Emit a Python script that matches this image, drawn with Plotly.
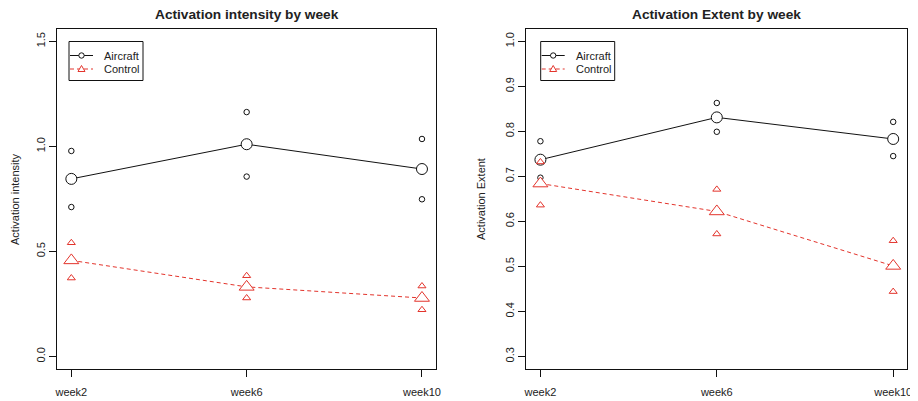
import plotly.graph_objects as go

weeks = ["week2", "week6", "week10"]

# Activation intensity
int_air_mean = [0.845, 1.010, 0.892]
int_air_hi = [0.978, 1.163, 1.035]
int_air_lo = [0.711, 0.856, 0.748]
int_ctl_mean = [0.457, 0.331, 0.278]
int_ctl_hi = [0.541, 0.384, 0.335]
int_ctl_lo = [0.373, 0.278, 0.222]

# Activation extent
ext_air_mean = [0.737, 0.831, 0.783]
ext_air_hi = [0.778, 0.863, 0.821]
ext_air_lo = [0.697, 0.799, 0.745]
ext_ctl_mean = [0.684, 0.622, 0.501]
ext_ctl_hi = [0.732, 0.671, 0.557]
ext_ctl_lo = [0.636, 0.572, 0.444]

int_ticks = [0.0, 0.5, 1.0, 1.5]
ext_ticks = [0.3, 0.4, 0.5, 0.6, 0.7, 0.8, 0.9, 1.0]
series_names = ["Aircraft", "Control"]

BLACK = "#111111"
RED = "#E3342C"
FONT = "Liberation Sans, Arial, Helvetica, sans-serif"
OFF = 8  # default page body margin
W, H = 918 - OFF, 401 - OFF


def px(v):
    return (v - OFF) / W


def py(v):
    return 1 - (v - OFF) / H


fig = go.Figure()


def add_panel(xa, ya, air_mean, air_hi, air_lo, ctl_mean, ctl_hi, ctl_lo):
    fig.add_trace(go.Scatter(x=weeks, y=air_mean, mode="lines+markers", xaxis=xa, yaxis=ya,
                             name=series_names[0],
                             line=dict(color=BLACK, width=1),
                             marker=dict(symbol="circle", size=11, color="white",
                                         line=dict(color=BLACK, width=1)),
                             showlegend=False, hoverinfo="skip"))
    fig.add_trace(go.Scatter(x=weeks + weeks, y=air_hi + air_lo, mode="markers", xaxis=xa, yaxis=ya,
                             marker=dict(symbol="circle-open", size=5.5, color=BLACK,
                                         line=dict(color=BLACK, width=1)),
                             showlegend=False, hoverinfo="skip"))
    fig.add_trace(go.Scatter(x=weeks, y=ctl_mean, mode="lines+markers", xaxis=xa, yaxis=ya,
                             name=series_names[1],
                             line=dict(color=RED, width=1, dash="4px,3px"),
                             marker=dict(symbol="triangle-up", size=13, color="white",
                                         line=dict(color=RED, width=1)),
                             showlegend=False, hoverinfo="skip"))
    fig.add_trace(go.Scatter(x=weeks + weeks, y=ctl_hi + ctl_lo, mode="markers", xaxis=xa, yaxis=ya,
                             marker=dict(symbol="triangle-up-open", size=7, color=RED,
                                         line=dict(color=RED, width=1)),
                             showlegend=False, hoverinfo="skip"))


add_panel("x", "y", int_air_mean, int_air_hi, int_air_lo, int_ctl_mean, int_ctl_hi, int_ctl_lo)
add_panel("x2", "y2", ext_air_mean, ext_air_hi, ext_air_lo, ext_ctl_mean, ext_ctl_hi, ext_ctl_lo)

shapes = []
annotations = []


def add_legend(x0, y0):
    # box (page pixel coords)
    shapes.append(dict(type="rect", xref="paper", yref="paper",
                       x0=px(x0), x1=px(x0 + 74), y0=py(y0), y1=py(y0 + 39),
                       line=dict(color=BLACK, width=1), fillcolor="white", layer="above"))
    ya, yc = y0 + 14, y0 + 27.5
    # Aircraft line + circle
    shapes.append(dict(type="line", xref="paper", yref="paper",
                       x0=px(x0 + 1), x1=px(x0 + 24), y0=py(ya), y1=py(ya),
                       line=dict(color=BLACK, width=1), layer="above"))
    cx = x0 + 12.5
    shapes.append(dict(type="circle", xref="paper", yref="paper",
                       x0=px(cx - 2.7), x1=px(cx + 2.7), y0=py(ya - 2.7), y1=py(ya + 2.7),
                       line=dict(color=BLACK, width=1), fillcolor="white", layer="above"))
    # Control dashed line + triangle
    shapes.append(dict(type="line", xref="paper", yref="paper",
                       x0=px(x0 + 1), x1=px(x0 + 24), y0=py(yc), y1=py(yc),
                       line=dict(color=RED, width=1, dash="4px,3px"), layer="above"))
    tri = "M {:.5f} {:.5f} L {:.5f} {:.5f} L {:.5f} {:.5f} Z".format(
        px(cx - 3.5), py(yc + 2.5), px(cx + 3.5), py(yc + 2.5), px(cx), py(yc - 3.5))
    shapes.append(dict(type="path", xref="paper", yref="paper", path=tri,
                       line=dict(color=RED, width=1), fillcolor="white", layer="above"))
    for name, yy in zip(series_names, [ya, yc]):
        annotations.append(dict(text=name, x=px(x0 + 33), y=py(yy), xref="paper", yref="paper",
                                showarrow=False, xanchor="left", yanchor="middle",
                                font=dict(family=FONT, size=11, color="#222222")))


add_legend(69, 41.5)
add_legend(540.7, 41.5)

ydom = [py(369), py(28.7)]

axis_common = dict(showline=True, mirror=True, linecolor=BLACK, linewidth=1,
                   ticks="outside", ticklen=7, tickwidth=1, tickcolor=BLACK,
                   showgrid=False, zeroline=False, automargin=False,
                   tickfont=dict(family=FONT, size=11, color="#222222"))

annotations += [
    dict(text="<b>Activation intensity by week</b>", x=px(246.7), y=py(14),
         xref="paper", yref="paper", showarrow=False, xanchor="center", yanchor="middle",
         font=dict(family=FONT, size=13.7, color="#222222")),
    dict(text="<b>Activation Extent by week</b>", x=px(716.8), y=py(14),
         xref="paper", yref="paper", showarrow=False, xanchor="center", yanchor="middle",
         font=dict(family=FONT, size=13.7, color="#222222")),
    dict(text="Activation intensity", x=px(15), y=py(199), textangle=-90,
         xref="paper", yref="paper", showarrow=False, xanchor="center", yanchor="middle",
         font=dict(family=FONT, size=11, color="#222222")),
    dict(text="Activation Extent", x=px(481), y=py(199), textangle=-90,
         xref="paper", yref="paper", showarrow=False, xanchor="center", yanchor="middle",
         font=dict(family=FONT, size=11, color="#222222")),
]

fig.update_layout(
    width=W, height=H,
    margin=dict(l=0, r=0, t=0, b=0, autoexpand=False),
    paper_bgcolor="white", plot_bgcolor="white",
    font=dict(family=FONT, color="#222222"),
    showlegend=False,
    xaxis=dict(domain=[px(57.3), px(436)], anchor="y", type="category",
               range=[-0.08, 2.08], ticklabelstandoff=6, **axis_common),
    yaxis=dict(domain=ydom, anchor="x", range=[-0.06, 1.56], tickvals=int_ticks,
               ticktext=["0.0", "0.5", "1.0", "1.5"], tickangle=-90,
               ticklabelstandoff=0, **axis_common),
    xaxis2=dict(domain=[px(526.3), px(907.3)], anchor="y2", type="category",
                range=[-0.08, 2.08], ticklabelstandoff=6, **axis_common),
    yaxis2=dict(domain=ydom, anchor="x2", range=[0.272, 1.028], tickvals=ext_ticks,
                ticktext=["0.3", "0.4", "0.5", "0.6", "0.7", "0.8", "0.9", "1.0"],
                tickangle=-90, ticklabelstandoff=0, **axis_common),
    shapes=shapes,
    annotations=annotations,
)

fig.write_html("out.html")
